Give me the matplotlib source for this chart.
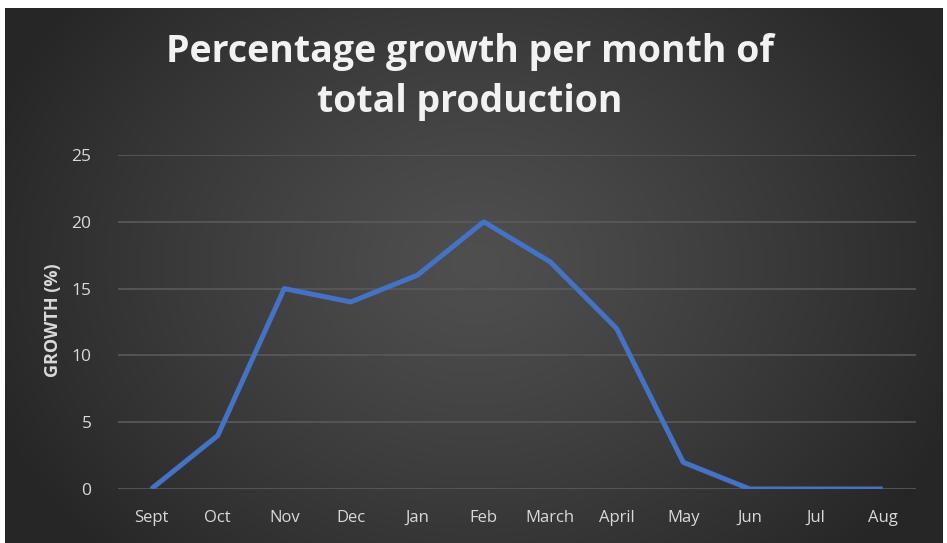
import matplotlib.pyplot as plt
import numpy as np

months = ["Sept", "Oct", "Nov", "Dec", "Jan", "Feb", "March", "April",
          "May", "Jun", "Jul", "Aug"]
growth = [0, 4, 15, 14, 16, 20, 17, 12, 2, 0, 0, 0]
y_ticks = [0, 5, 10, 15, 20, 25]
title_lines = ["Percentage growth per month of", "total production"]

W, H = 947, 543
fig = plt.figure(figsize=(W / 100, H / 100), dpi=100)
fig.patch.set_facecolor("white")

# dark radial gradient panel (Excel style chart area)
bg = fig.add_axes([5 / W, 0, 938 / W, 535 / H])
bg.set_axis_off()
yy, xx = np.mgrid[0:535, 0:938]
r = np.sqrt(((xx - 470) / 520) ** 2 + ((yy - 255) / 420) ** 2)
r = np.clip(r, 0, 1)
c_in, c_out = 0.31, 0.15
shade = c_in + (c_out - c_in) * r ** 1.2
bg.imshow(np.dstack([shade] * 3), aspect="auto", extent=[0, 1, 0, 1])
bg.set_xlim(0, 1)
bg.set_ylim(0, 1)

ax = fig.add_axes([118 / W, (H - 489) / H, 798 / W, 334 / H])
ax.patch.set_alpha(0)
ax.plot(range(len(months)), growth, color="#4472C4", linewidth=3.6,
        solid_joinstyle="round", solid_capstyle="butt", zorder=3)
ax.set_xlim(-0.5, len(months) - 0.5)
ax.set_ylim(0, 25)
ax.set_yticks(y_ticks)
ax.set_xticks(range(len(months)))
ax.set_xticklabels(months)
ax.grid(axis="y", color="#5a5a5a", linewidth=1.2)
ax.set_axisbelow(True)
for s in ax.spines.values():
    s.set_visible(False)
ax.tick_params(length=0, colors="#d9d9d9", labelsize=12)
ax.tick_params(axis="y", labelsize=12.5, pad=19)
ax.tick_params(axis="x", pad=15)
for t in ax.get_xticklabels() + ax.get_yticklabels():
    t.set_fontfamily("Open Sans")
ax.set_ylabel("GROWTH (%)", color="#d9d9d9", fontsize=13, fontweight="bold",
              fontfamily="Open Sans")
ax.yaxis.set_label_coords(-0.07, 0.506)

for line, base in zip(title_lines, [62, 112]):
    fig.text(470 / W, 1 - base / H, line, color="#f2f2f2", fontsize=27,
             fontweight="bold", fontfamily="Open Sans",
             ha="center", va="baseline")

fig.savefig("out.png", dpi=100)
